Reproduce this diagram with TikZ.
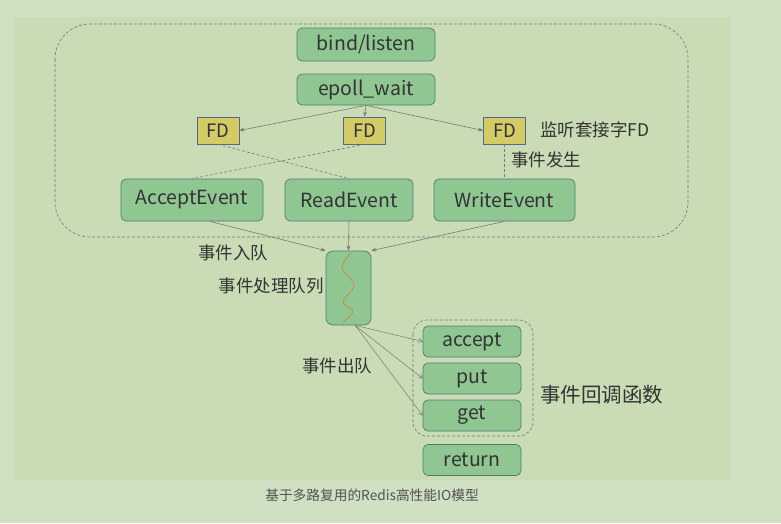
\documentclass[tikz,border=0pt]{standalone}
\usepackage{fontspec}
\setmainfont{Noto Sans CJK SC}
\usetikzlibrary{arrows.meta}
\definecolor{fundo}{HTML}{D0E0C3}
\definecolor{painel}{HTML}{C9DCB6}
\definecolor{verde}{HTML}{8FC692}
\definecolor{borda}{HTML}{4F7B73}
\definecolor{amarelo}{HTML}{D3CA68}
\definecolor{bordafd}{HTML}{5A6A7E}
\definecolor{linha}{HTML}{747C76}
\definecolor{texto}{HTML}{333333}
\definecolor{onda}{HTML}{C98A3E}
\begin{document}
\begin{tikzpicture}[x=1pt,y=-1pt,
    caixa/.style={draw=borda,fill=verde,rounded corners=5pt,line width=0.7pt,text=texto,
                  inner sep=0pt,font=\fontsize{19.5}{19.5}\selectfont},
    fdbox/.style={draw=bordafd,fill=amarelo,line width=0.7pt,text=texto,inner sep=0pt,
                  minimum width=42pt,minimum height=27pt,font=\fontsize{18.5}{18.5}\selectfont},
    rotulo/.style={text=texto,inner sep=0pt,font=\fontsize{17.5}{17.5}\selectfont},
    seta/.style={draw=linha,line width=0.6pt,-{Stealth[length=5pt,width=4pt]}},
    saida/.style={draw=linha,line width=0.5pt,-{Straight Barb[length=4pt,width=5pt]}},
    pontilhado/.style={draw=linha,line width=0.6pt,dash pattern=on 3pt off 2pt}]
    % fundo: 781 x 523 px
    \useasboundingbox (0,0) rectangle (781,523);
    \fill[fundo] (0,0) rectangle (781,523);
    \fill[painel] (14,17) rectangle (731,480);
    \draw[pontilhado,rounded corners=35pt] (55,24) rectangle (688,237);
    \draw[pontilhado,rounded corners=14pt] (413,320) rectangle (533,436);
    \node[caixa,minimum width=138pt,minimum height=33pt] (bind)  at (366,44.5) {bind/listen};
    \node[caixa,minimum width=138pt,minimum height=31pt] (epoll) at (366,89.5) {epoll\_wait};
    \foreach \n/\x in {fda/218,fdb/364.5,fdc/504.5}{
        \node[fdbox] (\n) at (\x,130.5) {FD};
    }
    \node[caixa,minimum width=142pt,minimum height=42pt] (accev) at (192,200)   {AcceptEvent};
    \node[caixa,minimum width=128pt,minimum height=42pt] (readev) at (349,200)  {ReadEvent};
    \node[caixa,minimum width=141pt,minimum height=42pt] (writeev) at (504.5,200) {WriteEvent};
    \node[caixa,rounded corners=7pt,minimum width=45pt,minimum height=74pt] (fila) at (348.5,288) {};
    \draw[onda,line width=0.7pt] plot[smooth,tension=0.6] coordinates
        {(351,253) (342,268) (354,285) (343,302) (353,311) (343,322)};
    \foreach \n/\y/\t in {cbacc/341.5/accept,cbput/378.5/put,cbget/415.5/get,cbret/460/return}{
        \node[caixa,minimum width=98pt,minimum height=31pt] (\n) at (472,\y) {\t};
    }
    \node[rotulo,anchor=west] (lbfd)   at (540,130) {监听套接字FD};
    \node[rotulo,anchor=west] (lbocor) at (511,160) {事件发生};
    \node[rotulo] (lbentra) at (233,253) {事件入队};
    \node[rotulo] (lbfila)  at (271,286) {事件处理队列};
    \node[rotulo] (lbsai)   at (337,366) {事件出队};
    \node[rotulo,anchor=west,font=\fontsize{20.5}{20.5}\selectfont] (lbcb) at (540,395) {事件回调函数};
    \node[text=texto!85,inner sep=0pt,font=\fontsize{13.7}{13.7}\selectfont] (legenda) at (372,495)
        {基于多路复用的Redis高性能IO模型};
    \draw[seta] (epoll.south) -- (fda.east);
    \draw[seta] (epoll.south) -- (fdb.north);
    \draw[seta] (epoll.south) -- (fdc.west);
    \draw[pontilhado] (fda.south) -- (readev.north);
    \draw[pontilhado] (fdb.south) -- (accev.north);
    \draw[pontilhado] (fdc.south) -- (writeev.north);
    \draw[seta] (accev.-50) -- (fila.north west);
    \draw[seta] (readev.south) -- (fila.north);
    \draw[seta] (writeev.south) -- (fila.north east);
    \foreach \n in {cbacc,cbput,cbget}{
        \draw[saida] (fila.-80) -- (\n.west);
    }
\end{tikzpicture}
\end{document}
